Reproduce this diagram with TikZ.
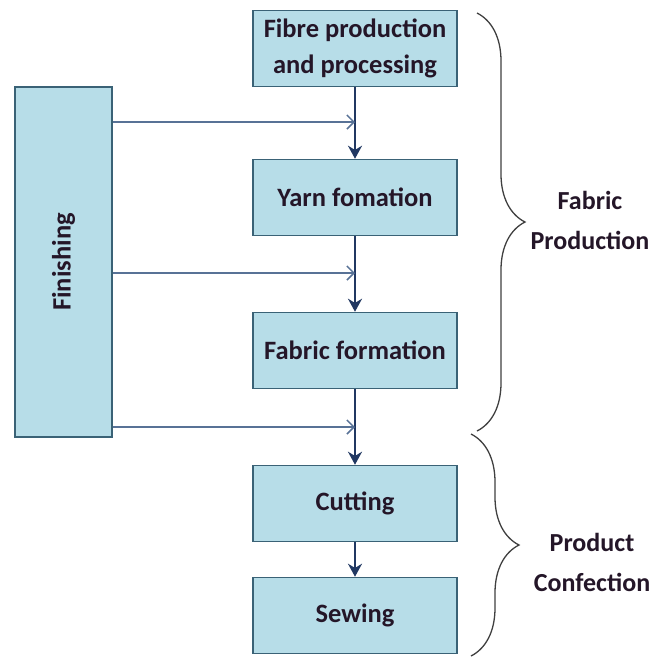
\documentclass[tikz,border=0pt]{standalone}
\usepackage{fontspec}
\setmainfont{Carlito}
\usepackage{graphicx}
\usetikzlibrary{arrows.meta,decorations.pathreplacing}
\definecolor{boxfill}{RGB}{183,221,232}
\definecolor{boxline}{RGB}{58,98,118}
\definecolor{flowline}{RGB}{33,56,98}
\definecolor{feedline}{RGB}{88,114,150}
\definecolor{labeltext}{RGB}{36,22,40}
\tikzset{
	stage/.style={draw=boxline,line width=1.5pt,fill=boxfill,text=labeltext,
		font=\fontsize{26.5}{36}\selectfont\bfseries,align=center,
		minimum width=204pt,minimum height=76pt,inner sep=0pt},
	flow/.style={draw=flowline,line width=2.6pt,-{Stealth[length=13pt,width=14pt]}},
	feed/.style={draw=feedline,line width=1.5pt,-{Straight Barb[length=7pt,width=14pt]}},
	bracket/.style={draw=black!75,line width=1.3pt,decorate,decoration={brace,amplitude=48pt}},
	phase/.style={text=labeltext,font=\fontsize{26}{40}\selectfont\bfseries,align=center}
}
\begin{document}
	\begin{tikzpicture}[x=1pt,y=-1pt]
		\useasboundingbox[fill=white] (0,0) rectangle (662,657);
		\node[stage] (fibre) at (355,48.5) {Fibre production\\and processing};
		\node[stage] (yarn) at (355,197.5) {Yarn fomation};
		\node[stage] (fabric) at (355,350.5) {Fabric formation};
		\node[stage] (cutting) at (355,503.5) {Cutting};
		\node[stage] (sewing) at (355,615.5) {Sewing};
		\node[stage,minimum width=97pt,minimum height=350pt] (finish) at (63.5,262) {\rotatebox{90}{Finishing}};
		\draw[flow] (fibre) -- (yarn);
		\draw[flow] (yarn) -- (fabric);
		\draw[flow] (fabric) -- (cutting);
		\draw[flow] (cutting) -- (sewing);
		\coordinate (in1) at (fibre.south |- 0,122);
		\coordinate (in2) at (yarn.south |- 0,273);
		\coordinate (in3) at (fabric.south |- 0,427);
		\draw[feed] (finish.east |- in1) -- (in1);
		\draw[feed] (finish.east |- in2) -- (in2);
		\draw[feed] (finish.east |- in3) -- (in3);
		\draw[bracket] (477,13) -- (477,431);
		\draw[bracket] (471,434) -- (471,656);
		\node[phase] (fabprod) at (590,220) {Fabric\\Production};
		\node[phase] (confect) at (592,562) {Product\\Confection};
	\end{tikzpicture}
\end{document}
